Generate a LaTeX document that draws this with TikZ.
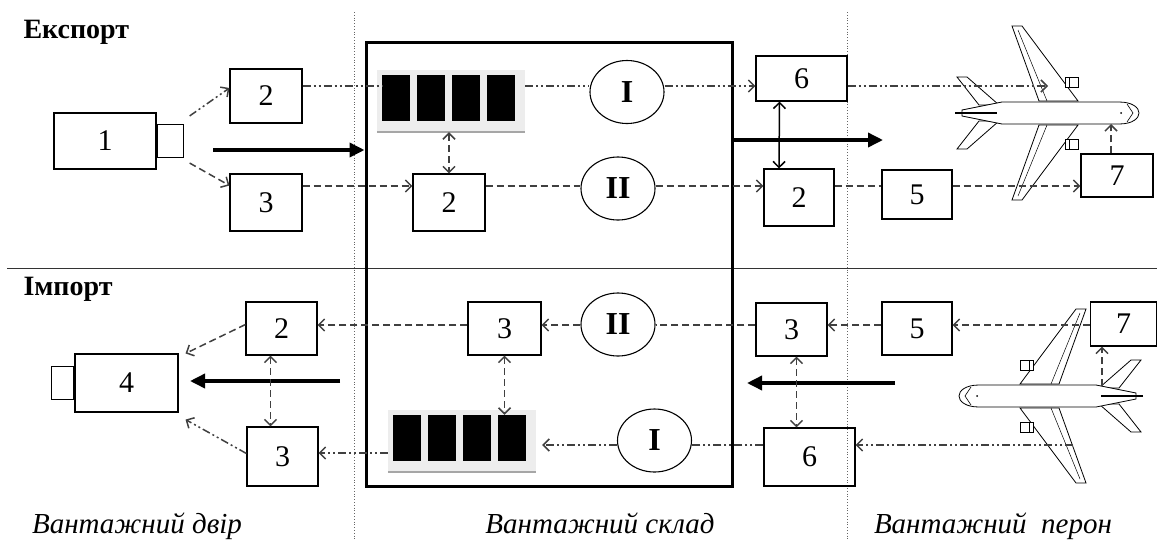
\documentclass[tikz,border=0pt]{standalone}
\usepackage{fontspec}
\setmainfont{Liberation Serif}
\usetikzlibrary{arrows.meta,shapes.geometric}

\tikzset{
  box/.style={draw, line width=1.1pt, inner sep=0pt, font=\fontsize{30}{30}\selectfont},
  oval/.style={ellipse, draw, line width=1.1pt, inner sep=0pt, minimum width=74pt,
    minimum height=63pt, font=\fontsize{32}{32}\selectfont\bfseries},
  rack/.style={fill=black!7, inner sep=0pt, minimum width=148pt, minimum height=62pt},
  flow/.style={line width=1.5pt, black!75},
  dsh/.style={flow, dash pattern=on 7pt off 4pt},
  ddot/.style={flow, dash pattern=on 8pt off 3pt on 2pt off 3pt on 2pt off 3pt},
  tip/.style={-{Straight Barb[length=6pt,width=12pt]}},
  twin/.style={{Straight Barb[length=6pt,width=12pt]}-{Straight Barb[length=6pt,width=12pt]}},
  heavy/.style={line width=3.5pt, -{Triangle[length=15pt,width=14pt]}},
  zone/.style={line width=0.8pt, black!60, dotted},
  head/.style={anchor=base west, font=\fontsize{28}{28}\selectfont\bfseries},
  area/.style={anchor=base, font=\fontsize{29}{29}\selectfont\itshape},
}

% plane seen from above, nose to the right
\newcommand{\airplane}{%
  \draw[fill=white, line width=0.8pt] (-8,-12) -- (-35,-87) -- (-25,-87) -- (31,-12) -- cycle;
  \draw[fill=white, line width=0.8pt] (-8,12) -- (-35,87) -- (-25,87) -- (31,12) -- cycle;
  \draw[line width=0.5pt] (0,-12) -- (-29,-83) (0,12) -- (-29,83);
  \draw[fill=white, line width=0.8pt] (18,-36) rectangle (31,-26) (18,26) rectangle (31,36);
  \draw[line width=0.5pt] (22,-36) -- (22,-26) (22,26) -- (22,36);
  \draw[fill=white, line width=0.8pt] (-68,-8) -- (-90,-36) -- (-80,-36) -- (-48,-8) -- cycle;
  \draw[fill=white, line width=0.8pt] (-68,8) -- (-90,36) -- (-80,36) -- (-48,8) -- cycle;
  \draw[fill=white, line width=0.8pt] (-85,-3) -- (-45,-11) -- (72,-11)
    .. controls (86,-11) and (92,-5) .. (92,0) .. controls (92,5) and (86,11) .. (72,11)
    -- (-45,11) -- (-85,3) -- cycle;
  \draw[line width=0.6pt] (80,-9) -- (86,0) -- (80,9);
  \fill (74,0) circle (1pt);
  \draw[line width=2.2pt] (-92,0) -- (-50,0);
}

\begin{document}
\begin{tikzpicture}[x=1pt, y=-1pt]
\useasboundingbox (0,0) rectangle (1157,539);

% zones
\draw[zone] (354,12) -- (354,539);
\draw[zone] (847,12) -- (847,539);
\draw[line width=1pt, black!80] (7,268) -- (1157,268);
\node[draw, line width=3pt, inner sep=0pt, minimum width=366pt, minimum height=444pt]
  (sklad) at (549,264) {};

\node[head] at (20,38) {Експорт};
\node[head] at (20,295) {Імпорт};
\node[area] at (137,533) {Вантажний двір};
\node[area] at (600,533) {Вантажний склад};
\node[area] at (993,533) {Вантажний\ \ перон};

% racks
\node[rack] (re) at (451,101) {};
\node[rack] (ri) at (462,441) {};
\foreach \r in {re,ri} {
  \draw[black!35, line width=1.5pt] (\r.south west) -- (\r.south east);
  \foreach \i in {0,...,3}
    \fill ([xshift={5+35*\i}, yshift=-5]\r.north west) rectangle +(28,46);
}

% planes
\begin{scope}[shift={(1047,113)}]
\airplane
\end{scope}
\begin{scope}[shift={(1051,396)}, xscale=-1]
\airplane
\end{scope}

% export
\node[box, minimum width=102pt, minimum height=56pt] (e1) at (105,141) {1};
\node[box, minimum width=26pt, minimum height=33pt, anchor=west] (e1c) at (e1.east) {};
\node[box, minimum width=72pt, minimum height=54pt] (e2) at (266,96) {2};
\node[box, minimum width=72pt, minimum height=57pt] (e3) at (266,202.5) {3};
\node[box, minimum width=72pt, minimum height=57pt] (ew2) at (449,202.5) {2};
\node[oval] (eI) at (627,92) {I};
\node[oval] (eII) at (618,188.5) {II};
\node[box, minimum width=91pt, minimum height=45pt] (e6) at (801.5,78.5) {6};
\node[box, minimum width=70pt, minimum height=57pt] (ep2) at (799,197.5) {2};
\node[box, minimum width=70pt, minimum height=49pt] (e5) at (917,194.5) {5};
\node[box, minimum width=72pt, minimum height=43pt] (e7) at (1117,175.5) {7};

% import
\node[box, minimum width=103pt, minimum height=58pt] (i4) at (126.5,383) {4};
\node[box, minimum width=22pt, minimum height=33pt, anchor=east] (i4c) at (i4.west) {};
\node[box, minimum width=71pt, minimum height=53pt] (i2) at (281.5,328.5) {2};
\node[box, minimum width=71pt, minimum height=59pt] (i3) at (282.5,456.5) {3};
\node[box, minimum width=73pt, minimum height=53pt] (iw3) at (504.5,328.5) {3};
\node[oval] (iII) at (618,324.5) {II};
\node[oval] (iI) at (654.5,440.5) {I};
\node[box, minimum width=71pt, minimum height=53pt] (ip3) at (791.5,329.5) {3};
\node[box, minimum width=91pt, minimum height=58pt] (i6) at (809.5,457) {6};
\node[box, minimum width=70pt, minimum height=53pt] (i5) at (917,328.5) {5};
\node[box, minimum width=66pt, minimum height=44pt] (i7) at (1123.5,324) {7};

\coordinate (r1) at (0,86);
\coordinate (r2) at (0,186);
\coordinate (r3) at (0,325);
\coordinate (r4) at (0,445);
\coordinate (r5) at (0,453);
\coordinate (pe-wing) at (1048,86);
\coordinate (pe-belly) at (1111,124);
\coordinate (pi-wing) at (1073,445);
\coordinate (pi-tail) at (1102,386);

% cargo flows
\coordinate (ein) at (213,150);
\coordinate (eout) at (883,140);
\coordinate (iin) at (895,383);
\coordinate (iend) at (747,383);
\coordinate (yin) at (340,381);
\coordinate (yend) at (190,381);
\draw[heavy] (ein) -- (ein -| sklad.west);
\draw[heavy] (eout -| sklad.east) -- (eout);
\draw[heavy] (iin) -- (iend);
\draw[heavy] (yin) -- (yend);

% export documents
\draw[ddot, tip] ([xshift=6, yshift=8]e1c.north east) -- ([yshift=8]e2.west);
\draw[dsh, tip] ([xshift=6, yshift=-5]e1c.south east) -- ([yshift=17]e3.west);
\draw[ddot] (e2.east |- r1) -- ([xshift=5]re.west |- r1);
\draw[ddot] (re.east |- r1) -- (eI.west |- r1);
\draw[ddot, tip] (eI.east |- r1) -- (e6.west |- r1);
\draw[ddot, tip] (e6.east |- r1) -- (pe-wing);
\draw[dsh, tip] (e3.east |- r2) -- (ew2.west |- r2);
\draw[dsh] (ew2.east |- r2) -- (eII.west |- r2);
\draw[dsh, tip] (eII.east |- r2) -- (ep2.west |- r2);
\draw[dsh] (ep2.east |- r2) -- (e5.west |- r2);
\draw[dsh, tip] (e5.east |- r2) -- (e7.west |- r2);
\draw[dsh, tip] (e7.north -| pe-belly) -- (pe-belly);
\draw[dsh, twin] (ew2.north |- re.south) -- (ew2.north);
\draw[flow, black, twin] ([xshift=-22]e6.south) -- ([xshift=-20]ep2.north);

% import documents
\draw[dsh, tip] (i7.west |- r3) -- (i5.east |- r3);
\draw[dsh, tip] (i5.west |- r3) -- (ip3.east |- r3);
\draw[dsh] (ip3.west |- r3) -- (iII.east |- r3);
\draw[dsh, tip] (iII.west |- r3) -- (iw3.east |- r3);
\draw[dsh, tip] (iw3.west |- r3) -- (i2.east |- r3);
\draw[dsh, tip] (pi-tail) -- (i7.south -| pi-tail);
\draw[ddot, tip] (pi-wing) -- (i6.east |- r4);
\draw[ddot] (i6.west |- r4) -- (iI.east |- r4);
\draw[ddot, tip] (iI.west |- r4) -- ([xshift=6]ri.east |- r4);
\draw[ddot, tip] (ri.west |- r5) -- (i3.east |- r5);
\draw[dsh, tip] ([yshift=4]i2.west) -- ([xshift=7]i4.north east);
\draw[ddot, tip] ([yshift=3]i3.west) -- ([xshift=7, yshift=-7]i4.south east);
\draw[dsh, twin] (iw3.south) -- ([yshift=-5]iw3.south |- ri.north);
\draw[dsh, twin] ([xshift=-11]i2.south) -- ([xshift=-12]i3.north);
\draw[dsh, twin] ([xshift=5]ip3.south) -- ([xshift=-13]i6.north);
\end{tikzpicture}
\end{document}
